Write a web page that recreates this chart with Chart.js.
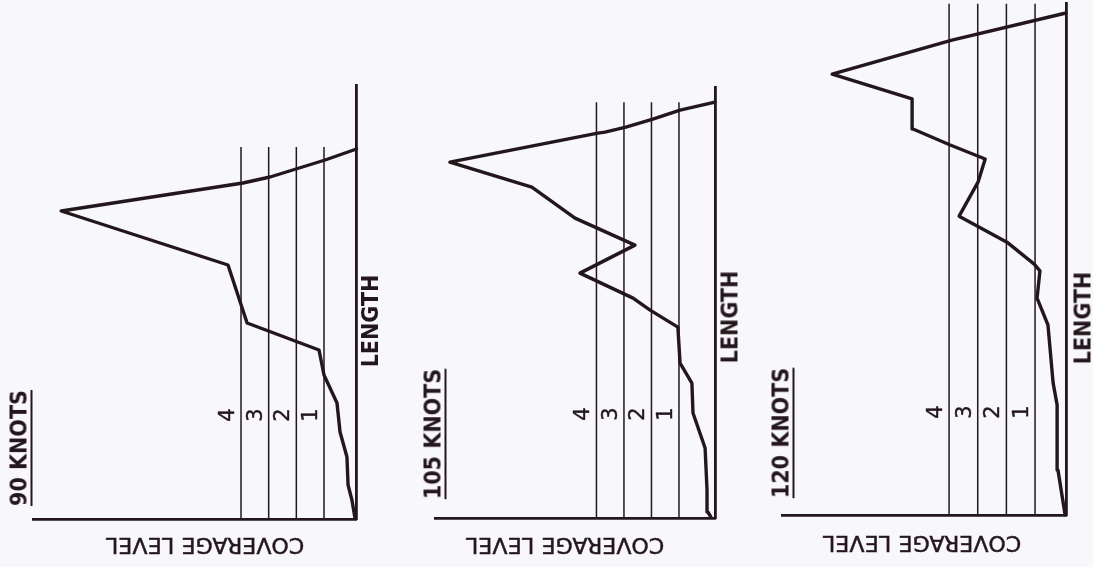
<!DOCTYPE html>
<html>
<head>
<meta charset="utf-8">
<script src="https://cdn.jsdelivr.net/npm/chart.js@4/dist/chart.umd.min.js"></script>
<style>
html,body{margin:0;padding:0;background:#f8f7fb;}
#wrap{position:relative;width:1093px;height:567px;overflow:hidden;font-family:"DejaVu Sans",sans-serif;color:#24171c;}
canvas{position:absolute;top:0;}
.t{position:absolute;white-space:nowrap;line-height:1;}
.up{transform:translate(-50%,-50%) rotate(-90deg);}
.flip{transform:translate(-50%,-50%) rotate(180deg);}
.cond{font-family:"DejaVu Sans Condensed","DejaVu Sans",sans-serif;font-stretch:condensed;font-weight:bold;}
.knots{font-size:23px;text-decoration:underline;text-decoration-thickness:2px;text-underline-offset:4px;}
.len{font-size:23px;}
.cov{font-size:22px;letter-spacing:0.2px;-webkit-text-stroke:0.5px #24171c;}
.lvl{font-size:21px;-webkit-text-stroke:0.4px #24171c;}
</style>
</head>
<body>
<div id="wrap">
  <canvas id="c90" style="left:0px;width:380px;height:567px"></canvas>
  <canvas id="c105" style="left:380px;width:360px;height:567px"></canvas>
  <canvas id="c120" style="left:740px;width:353px;height:567px"></canvas>

  <div class="t up knots cond" style="left:19px;top:448px">90 KNOTS</div>
  <div class="t up knots cond" style="left:433px;top:434px">105 KNOTS</div>
  <div class="t up knots cond" style="left:781px;top:433px">120 KNOTS</div>

  <div class="t up len cond" style="left:370px;top:321px">LENGTH</div>
  <div class="t up len cond" style="left:730px;top:317px">LENGTH</div>
  <div class="t up len cond" style="left:1083px;top:318px">LENGTH</div>

  <div class="t flip cov" style="left:205px;top:545px">COVERAGE LEVEL</div>
  <div class="t flip cov" style="left:565px;top:545px">COVERAGE LEVEL</div>
  <div class="t flip cov" style="left:922px;top:543px">COVERAGE LEVEL</div>
</div>
<script>
// ---- data (coverage level vs. length) ----
const levels = [1, 2, 3, 4];
const levelLabels = ['1', '2', '3', '4'];
const labelLength = 26;

// 90 knots
const cov90 = [-0.12, -0.01, 0.13, 0.17, 0.42, 0.53, 1.00, 1.18, 3.78, 4.47, 10.5, 3.93, 2.95, 0.96, -0.175];
const len90 = [0.25, 4.75, 8.5, 15.5, 21.75, 29, 36, 42.25, 49, 63.5, 77, 84, 85.5, 89.75, 92.5];
const levelTop90 = 93;

// 105 knots
const cov105 = [-0.16, -0.05, -0.02, 0.05, 0.49, 0.53, 0.96, 1.04, 2.05, 2.67, 4.6, 2.6, 4.78, 6.35, 9.33, 3.95, 3.69, 2.93, 1.95, 0.96, -0.31];
const len105 = [0.25, 1.5, 7, 17.5, 26.25, 33.75, 38.75, 47.75, 52, 55, 61.25, 68.25, 75, 82.75, 89, 96.25, 96.5, 97.75, 99.75, 102, 104];
const levelTop105 = 104;

// 120 knots
const cov120 = [-0.05, 0.2, 0.23, 0.37, 0.55, 0.93, 0.83, 1.03, 1.98, 3.65, 2.99, 2.74, 3.96, 5.26, 5.29, 8.08, 3.9, -0.08];
const len120 = [0.2, 11.4, 27.7, 33.2, 47.7, 54.4, 61.2, 62.9, 68.4, 74.9, 83.4, 89.2, 92.7, 96.7, 104.2, 110.4, 118.9, 125.7];
const levelTop120 = 128;

const INK = '#24171c';
const wrap = document.getElementById('wrap');

function makePanel(id, canvasLeft, cov, len, levelTop, xr, ymax, pad) {
  const datasets = [{
    data: cov.map((c, i) => ({x: c, y: len[i]})),
    showLine: true, borderColor: INK, borderWidth: 3.4, pointRadius: 0,
    tension: 0, borderJoinStyle: 'round', borderCapStyle: 'round', clip: false, fill: false
  }];
  levels.forEach(l => datasets.push({
    data: [{x: l, y: 0}, {x: l, y: levelTop}],
    showLine: true, borderColor: INK, borderWidth: 1.5, pointRadius: 0, clip: false, fill: false
  }));
  const labelPlugin = {
    id: 'lvlLabels',
    afterRender(chart) {
      if (chart._lvlDone) return;
      chart._lvlDone = true;
      levels.forEach((l, i) => {
        const d = document.createElement('div');
        d.className = 't up lvl';
        d.textContent = levelLabels[i];
        d.style.left = (canvasLeft + chart.scales.x.getPixelForValue(l) - 14) + 'px';
        d.style.top = chart.scales.y.getPixelForValue(labelLength) + 'px';
        wrap.appendChild(d);
      });
    }
  };
  return new Chart(document.getElementById(id), {
    type: 'scatter',
    data: {datasets},
    plugins: [labelPlugin],
    options: {
      responsive: false,
      animation: false,
      events: [],
      layout: {padding: pad},
      plugins: {legend: {display: false}, tooltip: {enabled: false}},
      scales: {
        x: {
          type: 'linear', position: 'bottom', reverse: true, min: xr[0], max: xr[1],
          grid: {display: false, drawTicks: false}, ticks: {display: false},
          border: {display: true, color: INK, width: 2.8}
        },
        y: {
          type: 'linear', position: 'right', min: 0, max: ymax,
          grid: {display: false, drawTicks: false}, ticks: {display: false},
          border: {display: true, color: INK, width: 2.8}
        }
      }
    }
  });
}

// set canvas backing sizes
[['c90', 380], ['c105', 360], ['c120', 353]].forEach(([id, w]) => {
  const c = document.getElementById(id); c.width = w; c.height = 567;
});

makePanel('c90', 0, cov90, len90, levelTop90, [-0.175, 11.52], 108.5, {left: 33, right: 23.5, top: 85, bottom: 48});
makePanel('c105', 380, cov105, len105, levelTop105, [-0.31, 9.87], 107.8, {left: 55, right: 25, top: 87, bottom: 49});
makePanel('c120', 740, cov120, len120, levelTop120, [-0.08, 9.83], 128.2, {left: 42, right: 27, top: 3, bottom: 51.3});
</script>
</body>
</html>
